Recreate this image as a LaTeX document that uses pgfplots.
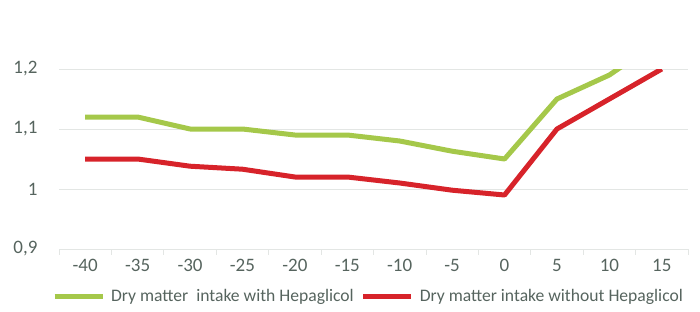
\documentclass[border=0pt]{standalone}
\usepackage{pgfplots}
\pgfplotsset{compat=1.18}
\usepackage{fontspec}
\setmainfont{Carlito}
\definecolor{gline}{HTML}{A5C84A}
\definecolor{rline}{HTML}{D7232A}
\definecolor{txt}{HTML}{56645E}
\definecolor{grd}{HTML}{E3E6E4}
\begin{document}
\begin{tikzpicture}[x=1pt,y=1pt]
\useasboundingbox (0,0) rectangle (700,311);
\begin{axis}[
  at={(59pt,62pt)}, anchor=south west,
  scale only axis, width=629pt, height=180pt,
  xmin=-0.5, xmax=11.5, ymin=0.9, ymax=1.2,
  xtick={0,...,11},
  xticklabels={-40,-35,-30,-25,-20,-15,-10,-5,0,5,10,15},
  minor xtick={-0.5,0.5,...,11.5},
  ytick={0.9,1,1.1,1.2},
  yticklabel style={/pgf/number format/use comma, /pgf/number format/fixed},
  /pgf/number format/assume math mode=true,
  ymajorgrids, grid style={grd, line width=0.8pt},
  axis x line*=bottom, axis y line*=left,
  x axis line style={grd, line width=0.8pt, -},
  y axis line style={draw=none},
  major tick length=0pt, minor tick length=6pt,
  tick align=outside, xtick pos=bottom, ytick pos=left,
  minor tick style={grd, line width=0.8pt},
  tick label style={font=\fontsize{19}{19}\selectfont, text=txt},
  xticklabel style={yshift=-7pt},
  yticklabel style={xshift=-18pt},
  clip=true,
  legend style={at={(0.5,0)}, anchor=north, xshift=-5pt, yshift=-38pt, draw=none, fill=none,
    font=\fontsize{17.6}{18}\selectfont, text=txt, inner sep=0pt,
    /tikz/every odd column/.append style={column sep=4pt},
    /tikz/every even column/.append style={column sep=5pt}},
  legend columns=2,
  legend image code/.code={\draw[line width=5pt,#1] (0pt,0pt) -- (48pt,0pt);},
]
\addplot[gline, line width=5pt, line join=round] coordinates {
(0,1.12) (1,1.12) (2,1.10) (3,1.10) (4,1.09) (5,1.09) (6,1.08) (7,1.063) (8,1.05) (9,1.15) (10,1.19) (11,1.25)};
\addlegendentry{Dry matter\ \ intake with Hepaglicol}
\addplot[rline, line width=5pt, line join=round] coordinates {
(0,1.05) (1,1.05) (2,1.038) (3,1.033) (4,1.02) (5,1.02) (6,1.01) (7,0.998) (8,0.99) (9,1.10) (10,1.15) (11,1.20)};
\addlegendentry{Dry matter intake without Hepaglicol}
\end{axis}
\end{tikzpicture}
\end{document}
